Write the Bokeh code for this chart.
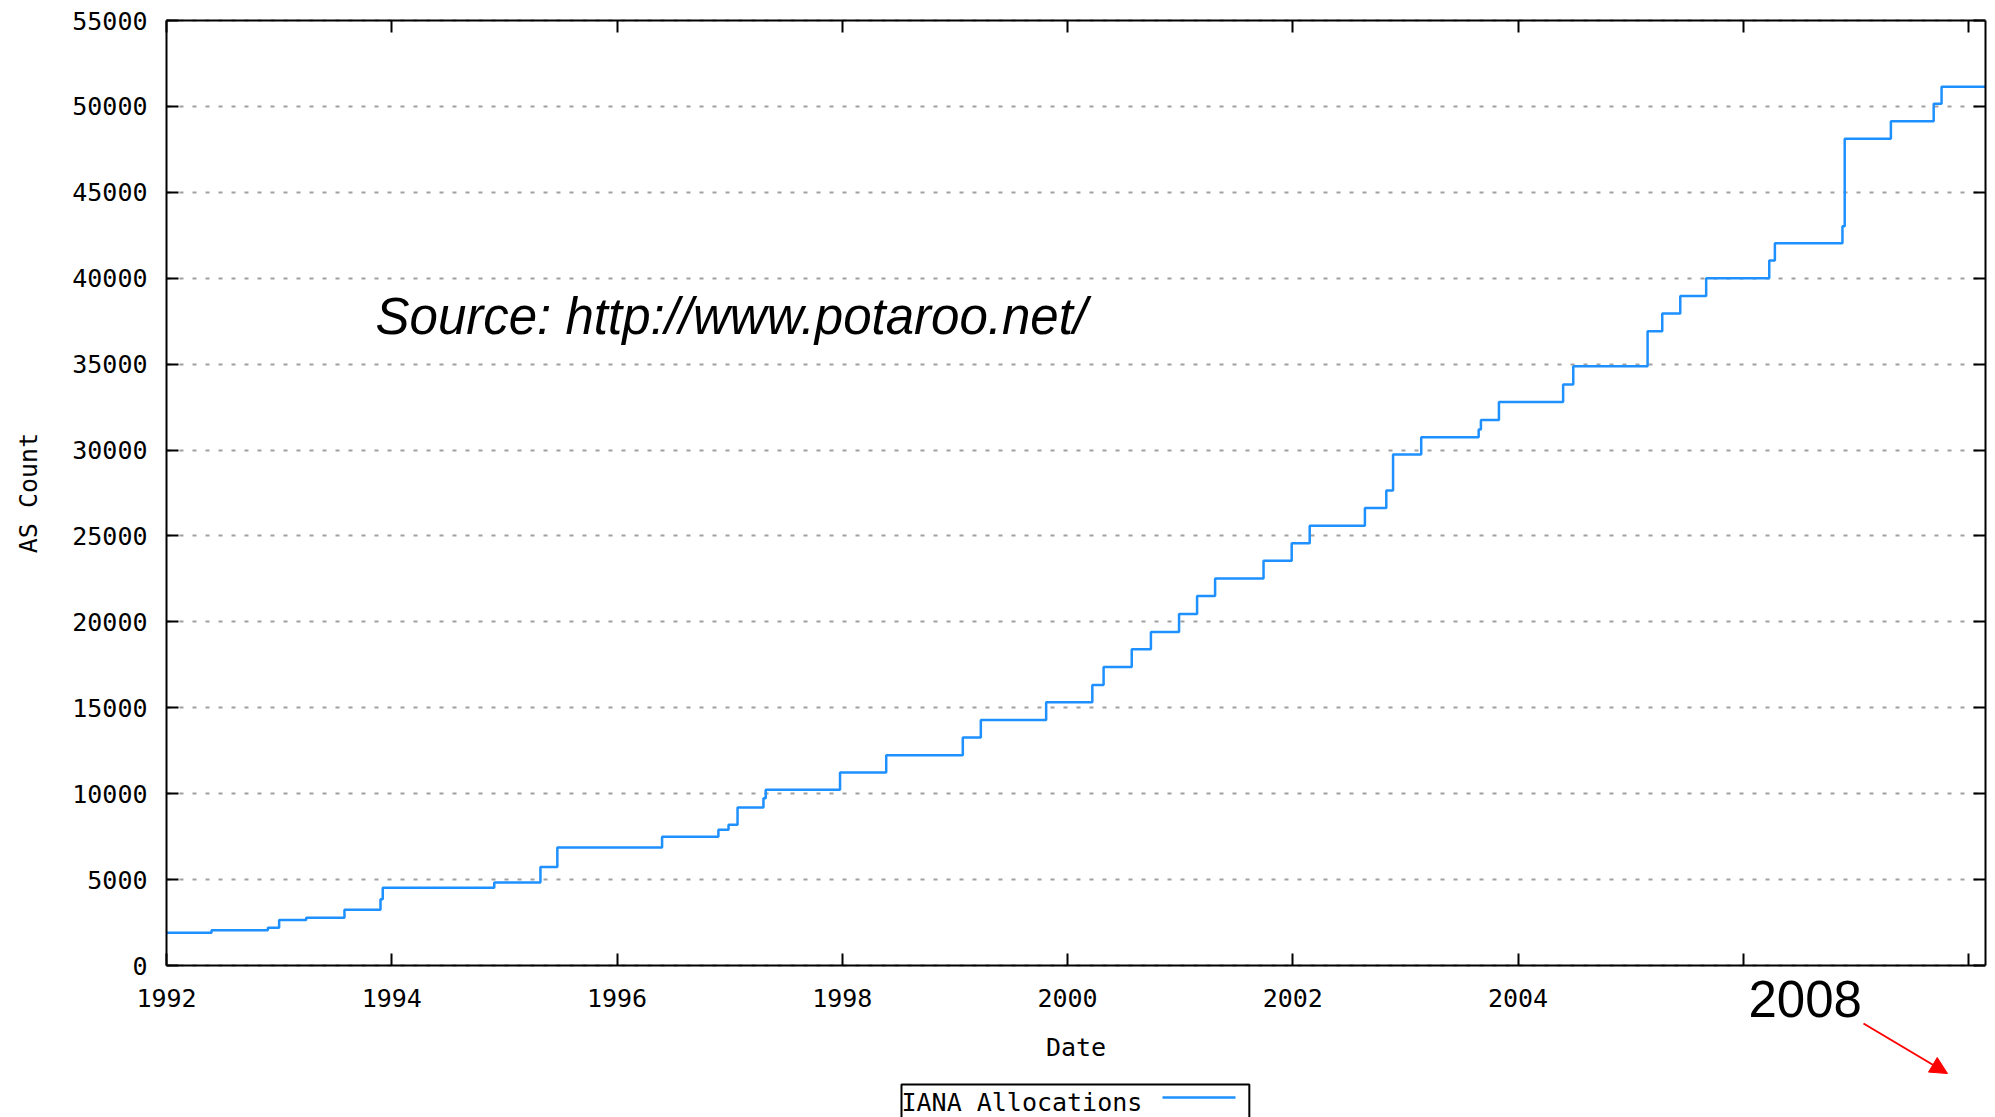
from bokeh.plotting import figure
from bokeh.models import (FixedTicker, LinearAxis, Label, Arrow, NormalHead,
                          Range1d, NumeralTickFormatter, ColumnDataSource)
from bokeh.embed import file_html
from bokeh.resources import INLINE

# ---- data ----
dates = [1992.00, 1992.40, 1992.90, 1993.00, 1993.24, 1993.58, 1993.90, 1993.92,
         1994.91, 1995.32, 1995.47, 1996.40, 1996.90, 1996.99, 1997.07, 1997.30,
         1997.32, 1997.98, 1998.39, 1999.07, 1999.23, 1999.81, 2000.22, 2000.32,
         2000.57, 2000.74, 2000.99, 2001.15, 2001.31, 2001.74, 2001.99, 2002.15,
         2002.64, 2002.83, 2002.89, 2003.14, 2003.65, 2003.67, 2003.83, 2004.40,
         2004.49, 2005.15, 2005.28, 2005.44, 2005.67, 2006.23, 2006.28, 2006.88,
         2006.90, 2007.31, 2007.69, 2007.76, 2008.15]
as_counts = [1900, 2050, 2200, 2650, 2780, 3250, 3850, 4530,
             4830, 5740, 6870, 7500, 7900, 8190, 9200, 9730,
             10230, 11230, 12240, 13270, 14290, 15320, 16330, 17370,
             18400, 19410, 20460, 21500, 22530, 23560, 24580, 25590,
             26620, 27640, 29740, 30750, 31190, 31750, 32790, 33820,
             34870, 36920, 37950, 38970, 40000, 41030, 42030, 43020,
             48120, 49140, 50150, 51150, 51150]

x_ticks = [1992, 1994, 1996, 1998, 2000, 2002, 2004, 2006, 2008]
x_tick_labels = {1992: "1992", 1994: "1994", 1996: "1996", 1998: "1998",
                 2000: "2000", 2002: "2002", 2004: "2004", 2006: "", 2008: ""}
y_ticks = [0, 5000, 10000, 15000, 20000, 25000, 30000, 35000, 40000, 45000, 50000, 55000]
x_start, x_end = 1992, 2008.15
y_top = 55000

series_name = "IANA Allocations"
source_note = "Source: http://www.potaroo.net/"
year_note = "2008"

MONO = "DejaVu Sans Mono"
LINE_BLUE = "#1e90ff"

# ---- layout (pixels) ----
W, H = 1995, 1117
BOX_LEFT, BOX_RIGHT, BOX_TOP, BOX_BOTTOM = 166, 1985, 20, 965
# The bokeh frame covers the canvas left, top and bottom; the gnuplot-style box
# is drawn by axes fixed at x=1992, y=0 and y=55000 so nothing outside is clipped.
x_per_px = (x_end - x_start) / (BOX_RIGHT - BOX_LEFT)
y_per_px = y_top / (BOX_BOTTOM - BOX_TOP)
x_lo = x_start - BOX_LEFT * x_per_px
y_lo = -(H - BOX_BOTTOM) * y_per_px
y_hi = y_top + BOX_TOP * y_per_px

p = figure(width=W, height=H, output_backend="svg", toolbar_location=None,
           x_range=Range1d(x_lo, x_end), y_range=Range1d(y_lo, y_hi),
           min_border_left=0, min_border_right=W - BOX_RIGHT,
           min_border_top=0, min_border_bottom=0,
           background_fill_color="white", border_fill_color="white")
p.outline_line_color = None


def style_ticks(ax):
    ax.major_tick_in = 12
    ax.major_tick_out = 0
    ax.minor_tick_in = 0
    ax.minor_tick_out = 0
    ax.major_tick_line_width = 2
    ax.major_tick_line_color = "black"
    ax.axis_line_color = "black"
    ax.axis_line_width = 2


p.xaxis.fixed_location = 0
p.xaxis.bounds = (x_start, x_end)
p.xaxis.ticker = FixedTicker(ticks=x_ticks)
p.xaxis.major_label_overrides = x_tick_labels
p.yaxis.fixed_location = x_start
p.yaxis.bounds = (0, y_top)
p.yaxis.ticker = FixedTicker(ticks=y_ticks)
p.yaxis.formatter = NumeralTickFormatter(format="0")
for ax in (p.xaxis, p.yaxis):
    style_ticks(ax)
    ax.major_label_text_font = MONO
    ax.major_label_text_font_size = "25px"
    ax.major_label_text_color = "black"
    ax.axis_label_text_font = MONO
    ax.axis_label_text_font_size = "25px"
    ax.axis_label_text_font_style = "normal"
    ax.axis_label_text_color = "black"
p.xaxis.axis_label = "Date"
p.yaxis.axis_label = "AS Count"
p.xaxis.major_label_standoff = 23
p.xaxis.axis_label_standoff = 23
p.yaxis.major_label_standoff = 19
p.yaxis.axis_label_standoff = 26

# mirrored ticks (top / right)
top_axis = LinearAxis(ticker=FixedTicker(ticks=x_ticks), bounds=(x_start, x_end),
                      fixed_location=y_top)
right_axis = LinearAxis(ticker=FixedTicker(ticks=y_ticks), bounds=(0, y_top))
for ax in (top_axis, right_axis):
    style_ticks(ax)
    ax.major_label_text_font_size = "0px"
    ax.major_label_text_color = None
    ax.major_label_standoff = 0
p.add_layout(top_axis, "above")
p.add_layout(right_axis, "right")

# grid
p.xgrid.visible = False
p.ygrid.cross_bounds = (x_start, x_end)
p.ygrid.grid_line_color = "#a0a0a0"
p.ygrid.grid_line_width = 2
p.ygrid.grid_line_dash = "4 9"

# data line
src = ColumnDataSource(dict(date=dates, count=as_counts))
p.step("date", "count", source=src, mode="after", line_color=LINE_BLUE, line_width=2.5)


def sx(page_x):
    return page_x


def sy(page_y):
    return H - page_y


# source annotation
p.add_layout(Label(x=sx(375), y=sy(316), x_units="screen", y_units="screen", text=source_note,
                   text_font="Liberation Sans", text_font_style="italic",
                   text_font_size="51px", text_baseline="alphabetic",
                   text_align="left", text_color="black"))

# "2008" annotation and red arrow
p.add_layout(Label(x=sx(1748), y=sy(998), x_units="screen", y_units="screen", text=year_note,
                   text_font="Liberation Sans", text_font_size="51px",
                   text_baseline="alphabetic", text_align="left", text_color="black"))
p.add_layout(Arrow(x_start=sx(1863), y_start=sy(1023), x_end=sx(1947), y_end=sy(1073),
                   start_units="screen", end_units="screen",
                   line_color="red", line_width=2,
                   end=NormalHead(size=17, fill_color="red", line_color="red")))

# legend (gnuplot style: text, then sample line)
p.add_layout(Label(x=sx(901), y=sy(1084), x_units="screen", y_units="screen", text=series_name,
                   text_font=MONO, text_font_size="25px", text_baseline="top",
                   text_align="left", text_color="black",
                   border_line_color="black", border_line_width=2,
                   background_fill_color="white",
                   padding=dict(left=0, right=107, top=3, bottom=20)))
p.add_layout(Arrow(x_start=sx(1162), y_start=sy(1097), x_end=sx(1235), y_end=sy(1097),
                   start_units="screen", end_units="screen", start=None, end=None,
                   line_color=LINE_BLUE, line_width=2.5))

open("out.html", "w").write(file_html(p, INLINE))
